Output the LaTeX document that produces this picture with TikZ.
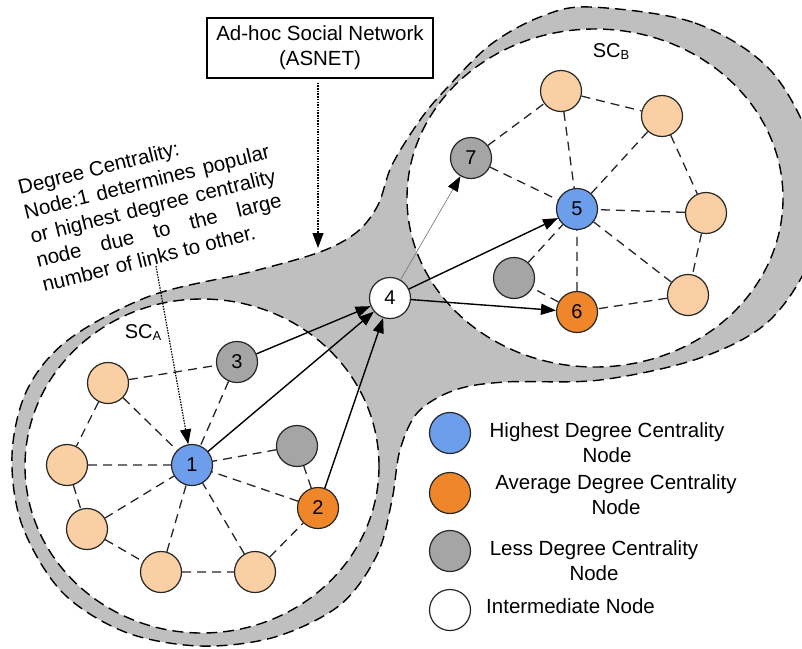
\documentclass[tikz,border=0pt]{standalone}
\usepackage{fontspec}
\setmainfont{Liberation Sans}
\usetikzlibrary{arrows.meta}
\definecolor{hblue}{HTML}{6D9EEB}
\definecolor{aorange}{HTML}{F0862A}
\definecolor{lgray}{HTML}{A5A5A5}
\definecolor{peach}{HTML}{F9CFA3}
\definecolor{band}{HTML}{BFBFBF}
\begin{document}
\begin{tikzpicture}[x=1pt,y=-1pt,
  nd/.style={circle,draw=black!85,line width=1.2pt,minimum size=41pt,inner sep=0pt,font=\fontsize{20}{20}\selectfont},
  pn/.style={nd,fill=peach},
  bn/.style={nd,fill=hblue},
  orn/.style={nd,fill=aorange},
  gn/.style={nd,fill=lgray},
  wn/.style={nd,fill=white},
  dl/.style={draw=black!85,line width=1.3pt,dash pattern=on 9pt off 6pt},
  ar/.style={line width=1.4pt,-{Triangle[length=15pt,width=11pt]}},
  thinar/.style={draw=black!55,line width=0.6pt,-{Triangle[length=15pt,width=11pt,color=black]}},
  dt/.style={line width=1.2pt,dash pattern=on 1.5pt off 1.2pt,-{Triangle[length=15pt,width=11pt]}},
  bd/.style={line width=1.4pt,dash pattern=on 11pt off 6pt},
  txt/.style={font=\fontsize{20.5}{25}\selectfont,align=center,inner sep=0pt},
  dcline/.style={rotate=14,anchor=base west,inner sep=0pt,font=\fontsize{20.5}{20.5}\selectfont}]
\useasboundingbox (0,0) rectangle (802,648);
\begin{scope}
\clip (0,0) rectangle (802,648);
\draw[bd,fill=band] plot[smooth cycle,tension=0.55] coordinates {
 (590,7) (695,23) (772,72) (816,160) (813,250) (770,320) (700,358) (600,380)
 (505,382) (455,390) (418,412) (400,450) (392,500) (377,555) (340,605) (275,637)
 (200,646) (125,632) (62,592) (22,525) (12,455) (27,390) (68,340) (150,296)
 (250,272) (320,252) (357,232) (378,205) (392,165) (420,120) (445,90) (490,45) (540,17)};
\end{scope}
\draw[bd,fill=white] (595,198) ellipse [x radius=188, y radius=169];
\draw[bd,fill=white] (202,466) ellipse [x radius=177, y radius=167];

% labels
\node[font=\fontsize{20}{20}\selectfont,inner sep=0pt] (sca) at (143,333) {SC\raisebox{-2pt}{\fontsize{13}{13}\selectfont A}};
\node[font=\fontsize{20}{20}\selectfont,inner sep=0pt] (scb) at (611,52) {SC\raisebox{-2pt}{\fontsize{13}{13}\selectfont B}};

% cluster A
\node[pn] (a1) at (108,383) {};
\node[pn] (a2) at (67,465) {};
\node[pn] (a3) at (87,529) {};
\node[pn] (a4) at (161,572) {};
\node[pn] (a5) at (255,572) {};
\node[bn] (n1) at (192,465) {1};
\node[orn] (n2) at (318,508) {2};
\node[gn] (n3) at (237,362) {3};
\node[gn] (ag) at (297,446) {};
\node[wn] (n4) at (390,298) {4};
% cluster B
\node[pn] (b1) at (561,91) {};
\node[pn] (b2) at (662,116) {};
\node[pn] (b3) at (706,213) {};
\node[pn] (b4) at (688,295) {};
\node[gn] (n7) at (471,158) {7};
\node[bn] (n5) at (577,209) {5};
\node[orn] (n6) at (577,312) {6};
\node[gn] (bg) at (514,278) {};

\draw[dl] (a1)--(n3) (a1)--(n1) (a1)--(a2) (a2)--(n1) (a2)--(a3) (a3)--(n1)
  (a3)--(a4) (a4)--(n1) (a4)--(a5) (a5)--(n1) (a5)--(n2) (n2)--(n1)
  (n2)--(ag) (ag)--(n1) (n3)--(n1);
\draw[dl] (n7)--(b1) (n7)--(n5) (b1)--(b2) (b1)--(n5) (b2)--(n5) (b2)--(b3)
  (b3)--(n5) (b3)--(b4) (b4)--(n5) (b4)--(n6) (n6)--(n5) (n6)--(bg) (bg)--(n5);

\draw[ar] (n3)--(n4);
\draw[ar] (n1)--(n4);
\draw[ar] (n2)--(n4);
\draw[ar] (n4)--(n5);
\draw[ar] (n4)--(n6);
\draw[thinar] (n4)--(n7);

% ASNET box
\node[txt,draw,line width=1.2pt,minimum width=226pt,minimum height=60pt] (asnet) at (320,48) {Ad-hoc Social Network\\(ASNET)};
\coordinate (asnetend) at (318,248);
\draw[dt,shorten <=4pt] (asnet.south -| asnetend) -- (asnetend);

% degree centrality text (rotated block, one node per line)
\begin{scope}[shift={(20,195)},rotate=14]
\node[dcline] (dc1) at (0,0) {Degree Centrality:};
\node[dcline] (dc2) at (0,25) {\makebox[252pt][s]{Node:1 determines popular}};
\node[dcline] (dc3) at (0,50) {\makebox[252pt][s]{or highest degree centrality}};
\node[dcline] (dc4) at (0,75) {\makebox[252pt][s]{node due to the large}};
\node[dcline] (dc5) at (0,100) {number of links to other.};
\end{scope}
\coordinate (dcs) at (156,266);
\draw[dt] (dcs) -- (n1);

% legend
\node[bn] (l1) at (450,433) {};
\node[orn] (l2) at (450,493) {};
\node[gn] (l3) at (450,551) {};
\node[wn] (l4) at (450,610) {};
\node[txt] (t1) at (607,443) {Highest Degree Centrality\\Node};
\node[txt] (t2) at (616,495) {Average Degree Centrality\\Node};
\node[txt] (t3) at (594,561) {Less Degree Centrality\\Node};
\node[txt,anchor=west] (t4) at (486,606) {Intermediate Node};
\end{tikzpicture}
\end{document}
